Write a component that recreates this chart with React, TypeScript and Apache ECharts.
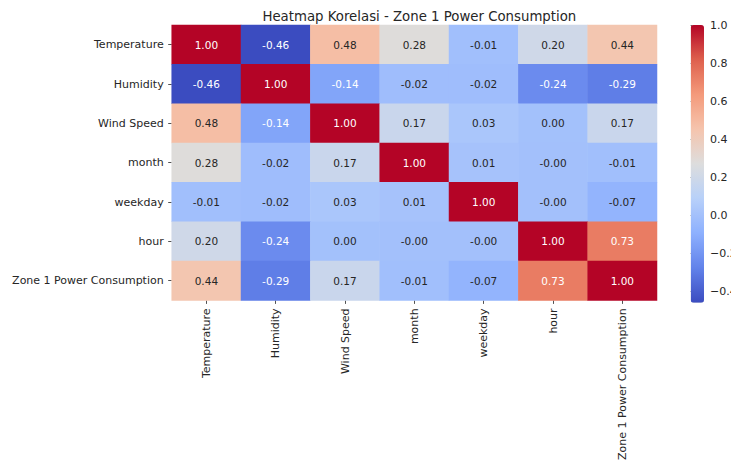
import React, { useEffect, useRef } from "react";
import * as echarts from "echarts";

const categories = [
  "Temperature",
  "Humidity",
  "Wind Speed",
  "month",
  "weekday",
  "hour",
  "Zone 1 Power Consumption",
];

const rowTemperature = [1.0, -0.46, 0.48, 0.28, -0.01, 0.2, 0.44];
const rowHumidity = [-0.46, 1.0, -0.14, -0.02, -0.02, -0.24, -0.29];
const rowWindSpeed = [0.48, -0.14, 1.0, 0.17, 0.03, 0.0, 0.17];
const rowMonth = [0.28, -0.02, 0.17, 1.0, 0.01, -0.003, -0.01];
const rowWeekday = [-0.01, -0.02, 0.03, 0.01, 1.0, -0.003, -0.07];
const rowHour = [0.2, -0.24, 0.0, -0.003, -0.003, 1.0, 0.73];
const rowZone1 = [0.44, -0.29, 0.17, -0.01, -0.07, 0.73, 1.0];

const matrix = [rowTemperature, rowHumidity, rowWindSpeed, rowMonth, rowWeekday, rowHour, rowZone1];

const colorbarMin = -0.46;
const colorbarMax = 1.0;
const colorbarTicks = [-0.4, -0.2, 0.0, 0.2, 0.4, 0.6, 0.8, 1.0];

const coolwarm = [
  "#3b4cc0",
  "#6282ea",
  "#8db0fe",
  "#b8d0f9",
  "#dddddd",
  "#f5c4ad",
  "#f49a7b",
  "#de604d",
  "#b40426",
];

const FONT = "DejaVu Sans";
const TEXT = "#262626";

export default function App() {
  const ref = useRef<HTMLDivElement>(null);

  useEffect(() => {
    if (!ref.current) return;
    const chart = echarts.init(ref.current, undefined, { renderer: "svg" });

    const data: any[] = [];
    matrix.forEach((row, r) => {
      row.forEach((v, c) => {
        const white = v < -0.1 || v > 0.6;
        data.push({
          value: [c, r, v],
          label: { color: white ? "#ffffff" : TEXT },
        });
      });
    });

    const gridLeft = 171.7;
    const gridTop = 25;
    const gridW = 485.3;
    const gridH = 277.7;
    const cbLeft = 690.7;
    const cbW = 13.3;

    chart.setOption({
      animation: false,
      backgroundColor: "#ffffff",
      title: {
        text: "Heatmap Korelasi - Zone 1 Power Consumption",
        left: gridLeft + gridW / 2,
        textAlign: "center",
        top: 5,
        textStyle: { fontFamily: FONT, fontSize: 13.3, fontWeight: "normal", color: TEXT },
      },
      grid: [
        { left: gridLeft, top: gridTop, width: gridW, height: gridH },
        { left: cbLeft, top: gridTop, width: cbW, height: gridH },
      ],
      xAxis: [
        {
          type: "category",
          data: categories,
          gridIndex: 0,
          position: "bottom",
          axisLine: { show: false },
          axisTick: { show: true, alignWithLabel: true, length: 3.5, lineStyle: { color: TEXT, width: 0.8 } },
          axisLabel: { rotate: 90, margin: 8, fontFamily: FONT, fontSize: 11, color: TEXT, interval: 0 },
          splitLine: { show: false },
        },
        {
          type: "value",
          gridIndex: 1,
          show: false,
          min: 0,
          max: 1,
        },
      ],
      yAxis: [
        {
          type: "category",
          data: categories,
          gridIndex: 0,
          inverse: true,
          axisLine: { show: false },
          axisTick: { show: true, alignWithLabel: true, length: 3.5, lineStyle: { color: TEXT, width: 0.8 } },
          axisLabel: { margin: 8, fontFamily: FONT, fontSize: 11, color: TEXT, interval: 0 },
          splitLine: { show: false },
        },
        {
          type: "value",
          gridIndex: 1,
          position: "right",
          min: colorbarMin,
          max: colorbarMax,
          axisLine: { show: true, lineStyle: { color: "rgba(0,0,0,0)" } },
          splitLine: { show: false },
          axisTick: {
            show: true,
            length: 4,
            customValues: colorbarTicks,
            lineStyle: { color: TEXT, width: 0.8 },
          },
          axisLabel: {
            margin: 8,
            padding: [0, 0, 0, 8],
            customValues: colorbarTicks,
            fontFamily: FONT,
            fontSize: 11,
            color: TEXT,
            formatter: (v: number) => v.toFixed(1).replace("-", "\u2212"),
          },
        },
      ],
      visualMap: {
        type: "continuous",
        min: colorbarMin,
        max: colorbarMax,
        seriesIndex: 0,
        orient: "vertical",
        left: cbLeft,
        top: gridTop,
        itemWidth: cbW,
        itemHeight: gridH,
        padding: 0,
        calculable: false,
        realtime: false,
        hoverLink: false,
        text: null,
        showLabel: false,
        inRange: { color: coolwarm },
      },
      series: [
        {
          type: "heatmap",
          xAxisIndex: 0,
          yAxisIndex: 0,
          data,
          label: {
            show: true,
            fontFamily: FONT,
            fontSize: 10.5,
            formatter: (p: any) => (p.value[2] as number).toFixed(2),
          },
          itemStyle: { borderWidth: 0 },
          emphasis: { disabled: true },
        },
      ],
    });

    return () => chart.dispose();
  }, []);

  return (
    <div
      ref={ref}
      style={{ position: "fixed", left: 0, top: 0, width: 731, height: 463, background: "#fff" }}
    />
  );
}
